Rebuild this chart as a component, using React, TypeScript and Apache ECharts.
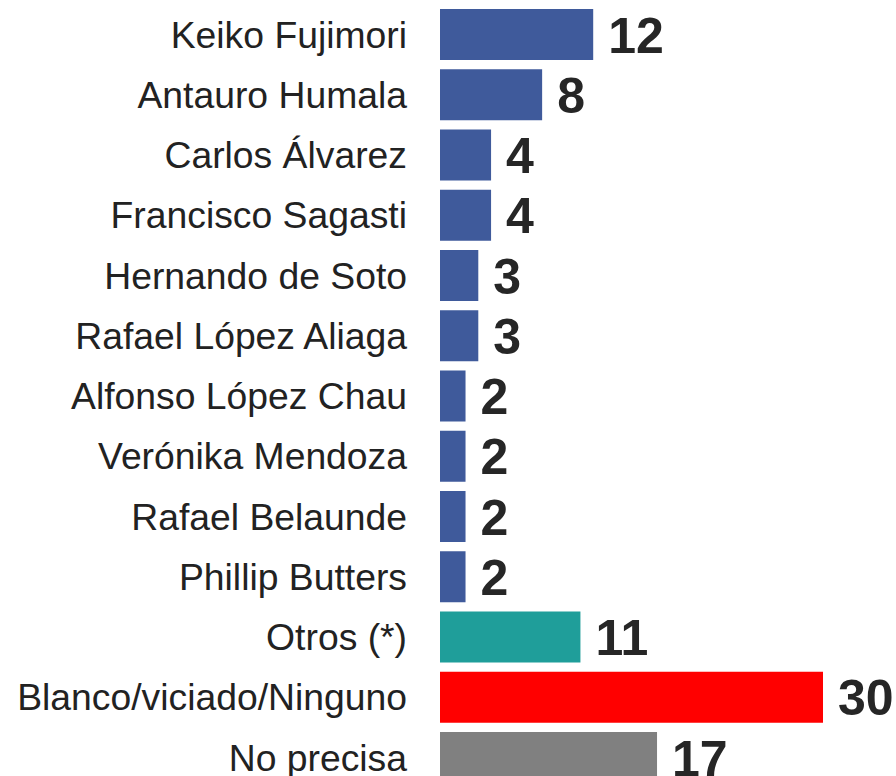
import React, { useEffect, useRef } from "react";
import * as echarts from "echarts";

const categories = [
  "Keiko Fujimori",
  "Antauro Humala",
  "Carlos Álvarez",
  "Francisco Sagasti",
  "Hernando de Soto",
  "Rafael López Aliaga",
  "Alfonso López Chau",
  "Verónika Mendoza",
  "Rafael Belaunde",
  "Phillip Butters",
  "Otros (*)",
  "Blanco/viciado/Ninguno",
  "No precisa",
];

const values = [12, 8, 4, 4, 3, 3, 2, 2, 2, 2, 11, 30, 17];

const BLUE = "#3F5A9B";
const TEAL = "#1F9E9A";
const RED = "#FF0000";
const GRAY = "#808080";
const barColors = [BLUE, BLUE, BLUE, BLUE, BLUE, BLUE, BLUE, BLUE, BLUE, BLUE, TEAL, RED, GRAY];

export default function App() {
  const ref = useRef<HTMLDivElement>(null);

  useEffect(() => {
    if (!ref.current) return;
    const chart = echarts.init(ref.current, undefined, { renderer: "svg" });
    chart.setOption({
      animation: false,
      backgroundColor: "#ffffff",
      grid: { left: 440, top: 4.4, width: 383, height: 783.25, containLabel: false },
      xAxis: {
        type: "value",
        min: 0,
        max: 30,
        show: false,
        splitLine: { show: false },
      },
      yAxis: {
        type: "category",
        inverse: true,
        data: categories,
        axisLine: { show: false },
        axisTick: { show: false },
        axisLabel: {
          margin: 33,
          fontSize: 37.3,
          color: "#222222",
          fontFamily: "'Liberation Sans', Arial, sans-serif",
        },
      },
      series: [
        {
          type: "bar",
          barWidth: 51,
          data: values.map((v, i) => ({ value: v, itemStyle: { color: barColors[i] } })),
          label: {
            show: true,
            position: "right",
            distance: 15,
            offset: [0, 1],
            fontSize: 50,
            fontWeight: "bold",
            color: "#262626",
            fontFamily: "'Liberation Sans', Arial, sans-serif",
          },
        },
      ],
    });
    return () => chart.dispose();
  }, []);

  return (
    <div
      style={{
        position: "absolute",
        left: 0,
        top: 0,
        width: 896,
        height: 776,
        overflow: "hidden",
        background: "#ffffff",
      }}
    >
      <div ref={ref} style={{ width: 896, height: 800 }} />
    </div>
  );
}
